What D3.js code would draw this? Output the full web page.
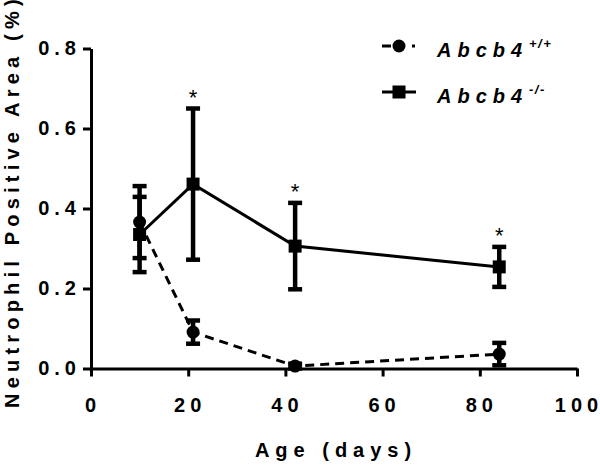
<!DOCTYPE html>
<html>
<head>
<meta charset="utf-8">
<script src="https://cdn.jsdelivr.net/npm/d3@7"></script>
<style>
  html, body { margin: 0; padding: 0; background: #fff; }
  svg { display: block; }
  text { font-family: "Liberation Sans", Arial, sans-serif; }
</style>
</head>
<body>
<svg id="chart" width="600" height="465"></svg>
<script>
// ---- data ----
const ages = [10, 21, 42, 84];
const wtMean = [0.366, 0.091, 0.006, 0.036];
const wtErr = [0.090, 0.029, 0.006, 0.028];
const koMean = [0.335, 0.461, 0.306, 0.254];
const koErr = [0.094, 0.189, 0.108, 0.050];
const significant = [false, true, true, true];
const xTicks = [0, 20, 40, 60, 80, 100];
const yTicks = [0.0, 0.2, 0.4, 0.6, 0.8];
const seriesNames = ["Abcb4", "Abcb4"];
const seriesSup = ["+/+", "-/-"];
const xTitle = "Age (days)";
const yTitle = "Neutrophil Positive Area (%)";

const svg = d3.select("#chart");
const x = d3.scaleLinear().domain([0, 100]).range([91, 577]);
const y = d3.scaleLinear().domain([0, 0.8]).range([368.5, 48.5]);

const LS = 5;

// axes
const xAxis = d3.axisBottom(x).tickValues(xTicks).tickSize(8).tickSizeOuter(0).tickPadding(21).tickFormat(d3.format("d"));
const yAxis = d3.axisLeft(y).tickValues(yTicks).tickSize(8).tickSizeOuter(0).tickPadding(6).tickFormat(d3.format(".1f"));

const gx = svg.append("g").attr("transform", `translate(0,${y(0)})`).call(xAxis);
const gy = svg.append("g").attr("transform", `translate(${x(0)},0)`).call(yAxis);

[gx, gy].forEach(g => {
  g.select(".domain").attr("stroke", "#000").attr("stroke-width", 3);
  g.selectAll(".tick line").attr("stroke", "#000").attr("stroke-width", 3);
  g.selectAll(".tick text")
    .attr("fill", "#000")
    .style("font-size", "20px")
    .style("font-weight", "bold")
    .style("letter-spacing", LS + "px");
});
gx.selectAll(".tick text").attr("dx", LS / 2 - 1);
gy.selectAll(".tick text").attr("dx", LS - 1);

// axis titles
svg.append("text")
  .attr("x", 333 + 3).attr("y", 457)
  .attr("text-anchor", "middle")
  .style("font-size", "20px").style("font-weight", "bold")
  .style("letter-spacing", "6px")
  .text(xTitle);

svg.append("text")
  .attr("transform", `translate(19,408) rotate(-90)`)
  .attr("text-anchor", "start")
  .style("font-size", "20px").style("font-weight", "bold")
  .style("letter-spacing", "5.2px")
  .text(yTitle);

// error bars
function errorBars(mean, err) {
  const g = svg.append("g");
  ages.forEach((a, i) => {
    const cx = x(a), top = y(mean[i] + err[i]), bot = y(Math.max(0, mean[i] - err[i]));
    g.append("line").attr("x1", cx).attr("x2", cx).attr("y1", top).attr("y2", bot)
      .attr("stroke", "#000").attr("stroke-width", 4.5);
    [top, bot].forEach(yy => {
      g.append("line").attr("x1", cx - 7).attr("x2", cx + 7).attr("y1", yy).attr("y2", yy)
        .attr("stroke", "#000").attr("stroke-width", 4.5);
    });
  });
}
errorBars(wtMean, wtErr);
errorBars(koMean, koErr);

// lines
const line = d3.line().x(d => x(d[0])).y(d => y(d[1]));
svg.append("path")
  .attr("d", line(ages.map((a, i) => [a, wtMean[i]])))
  .attr("fill", "none").attr("stroke", "#000").attr("stroke-width", 3)
  .attr("stroke-dasharray", "9,6");
svg.append("path")
  .attr("d", line(ages.map((a, i) => [a, koMean[i]])))
  .attr("fill", "none").attr("stroke", "#000").attr("stroke-width", 3);

// markers
svg.append("g").selectAll("circle").data(ages).join("circle")
  .attr("cx", d => x(d)).attr("cy", (d, i) => y(wtMean[i])).attr("r", 6.5).attr("fill", "#000");
svg.append("g").selectAll("rect").data(ages).join("rect")
  .attr("x", d => x(d) - 6.5).attr("y", (d, i) => y(koMean[i]) - 6.5)
  .attr("width", 13).attr("height", 13).attr("fill", "#000");

// significance asterisks
svg.append("g").selectAll("text").data(ages.filter((a, i) => significant[i])).join("text")
  .attr("x", d => x(d))
  .attr("y", d => { const i = ages.indexOf(d); return y(koMean[i] + koErr[i]) - 16 + 12.5; })
  .attr("text-anchor", "middle")
  .style("font-size", "22px")
  .text("*");

// legend
const lg = svg.append("g");
// row 1: dashed with circle
lg.append("line").attr("x1", 382).attr("x2", 391).attr("y1", 46).attr("y2", 46).attr("stroke", "#000").attr("stroke-width", 3);
lg.append("circle").attr("cx", 399).attr("cy", 46).attr("r", 6.5).attr("fill", "#000");
lg.append("rect").attr("x", 412).attr("y", 44.5).attr("width", 3).attr("height", 3).attr("fill", "#000");
// row 2: solid with square
lg.append("line").attr("x1", 382).attr("x2", 416).attr("y1", 92).attr("y2", 92).attr("stroke", "#000").attr("stroke-width", 3);
lg.append("rect").attr("x", 392.5).attr("y", 85.5).attr("width", 13).attr("height", 13).attr("fill", "#000");

[57, 103].forEach((by, i) => {
  lg.append("text").attr("x", 437).attr("y", by)
    .style("font-size", "20px").style("font-weight", "bold").style("font-style", "italic")
    .style("letter-spacing", "6px")
    .text(seriesNames[i]);
  lg.append("text").attr("x", 529).attr("y", by - 9)
    .style("font-size", "13px").style("font-weight", "bold").style("font-style", "italic")
    .style("letter-spacing", "1.5px")
    .text(seriesSup[i]);
});
</script>
</body>
</html>
